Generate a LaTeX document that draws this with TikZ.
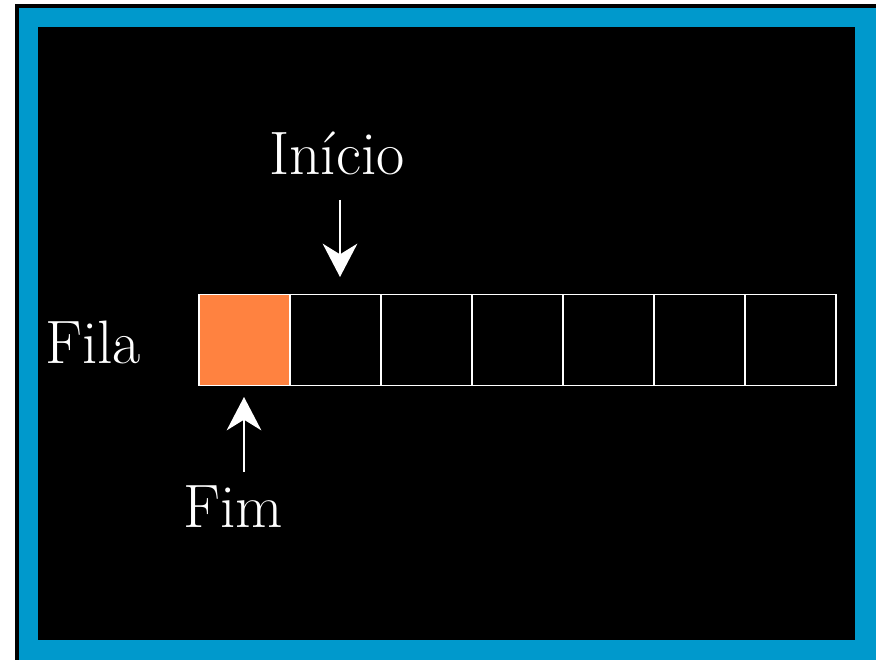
\documentclass[tikz,border=0pt]{standalone}
\usepackage{tikz}
\usetikzlibrary{arrows.meta}
\usetikzlibrary{positioning}
\usetikzlibrary{calc}
\definecolor{frameblue}{RGB}{0,153,204}
\definecolor{cellorange}{RGB}{255,130,64}

\begin{document}
\begin{tikzpicture}[x=0.75pt,y=-0.75pt,
  cell/.style={draw=white,line width=1.2pt,minimum size=68.25pt,inner sep=0pt,outer sep=0pt},
  lbl/.style={text=white,anchor=base,font=\fontsize{46}{52}\selectfont},
  pointer/.style={draw=white,line width=1.5pt,-{Stealth[length=25pt,width=26pt,inset=8pt]}}]
  \useasboundingbox[fill=white] (0,0) rectangle (876,660);
  \fill[black] (15,4) rectangle (876,660);
  \fill[frameblue] (19,8) rectangle (876,660);
  \fill[black] (38,27) rectangle (855,640);
  \node[cell,fill=cellorange] (c1) at (244.5,340) {};
  \node[cell,right=0pt of c1] (c2) {};
  \node[cell,right=0pt of c2] (c3) {};
  \node[cell,right=0pt of c3] (c4) {};
  \node[cell,right=0pt of c4] (c5) {};
  \node[cell,right=0pt of c5] (c6) {};
  \node[cell,right=0pt of c6] (c7) {};
  \node[lbl] (fila) at (93,363) {Fila};
  \node[lbl] (inicio) at (337,175) {Início};
  \node[lbl] (fim) at (233,527) {Fim};
  \coordinate (inicio1) at (340,200);
  \coordinate (inicio2) at (340,277);
  \coordinate (fim1) at (244,472);
  \coordinate (fim2) at (244,397);
  \draw[pointer] (inicio1) -- (inicio2);
  \draw[pointer] (fim1) -- (fim2);
\end{tikzpicture}
\end{document}
